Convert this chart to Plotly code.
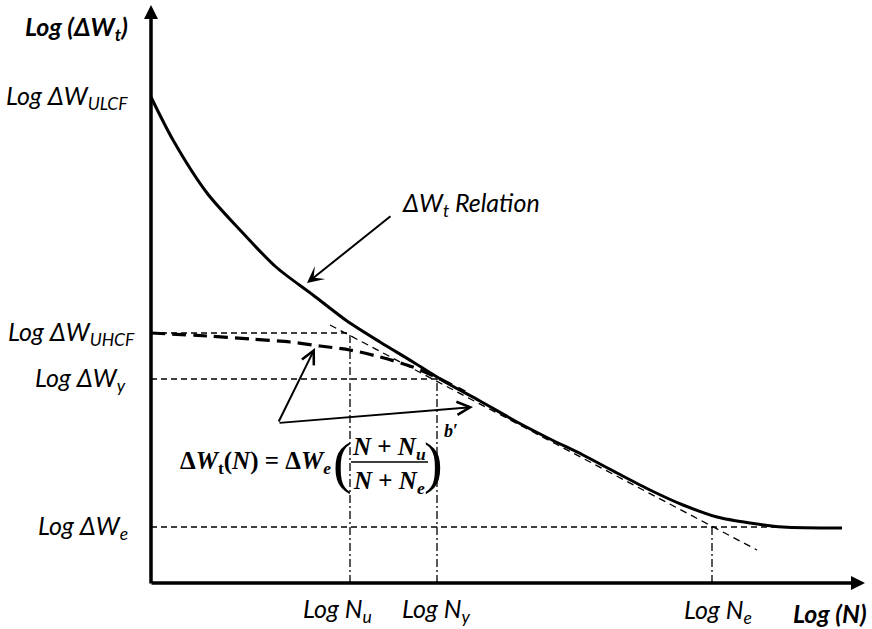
import plotly.graph_objects as go

# ---- data (schematic units: Log N horizontally, Log ΔW vertically) ----
log_N_curve = [0.00, 0.22, 0.56, 0.89, 1.25, 1.62, 1.96, 2.29, 2.62, 2.96, 3.29,
               3.66, 3.99, 4.32, 4.66, 4.99, 5.32, 5.66, 5.99, 6.32, 6.91]
log_dW_curve = [4.86, 4.43, 3.90, 3.53, 3.16, 2.88, 2.62, 2.41, 2.21, 2.00, 1.82,
                1.61, 1.44, 1.28, 1.10, 0.93, 0.78, 0.66, 0.60, 0.56, 0.55]

log_N_hcf = [0.00, 0.56, 0.99, 1.39, 1.69, 1.99, 2.29, 2.62, 2.89, 3.14]
log_dW_hcf = [2.50, 2.47, 2.44, 2.41, 2.37, 2.33, 2.26, 2.16, 2.04, 1.91]

log_N_tangent = [1.79, 6.06]
log_dW_tangent = [2.58, 0.33]

dW_ULCF = 4.86
dW_UHCF = 2.50
dW_y = 2.04
dW_e = 0.56
N_u = 1.99
N_y = 2.86
N_e = 5.61
x_max = 7.14
y_max = 5.78

fig = go.Figure()

fig.add_trace(go.Scatter(x=log_N_curve, y=log_dW_curve, mode="lines",
                         line=dict(color="black", width=3, shape="spline", smoothing=0.8),
                         hoverinfo="skip"))
fig.add_trace(go.Scatter(x=log_N_hcf, y=log_dW_hcf, mode="lines",
                         line=dict(color="black", width=3.2, dash="14px,7px",
                                   shape="spline", smoothing=0.8),
                         hoverinfo="skip"))
fig.add_trace(go.Scatter(x=log_N_tangent, y=log_dW_tangent, mode="lines",
                         line=dict(color="black", width=1.3, dash="7px,5px"),
                         hoverinfo="skip"))

thin_dash = dict(color="black", width=1.3, dash="6px,4px")
dashdot = dict(color="black", width=1.3, dash="8px,3px,2px,3px")

for lvl, xend in [(dW_UHCF, N_u), (dW_y, N_y), (dW_e, 6.40)]:
    fig.add_trace(go.Scatter(x=[0, xend], y=[lvl, lvl], mode="lines",
                             line=thin_dash, hoverinfo="skip"))
for nx, lvl in [(N_u, dW_UHCF), (N_y, dW_y), (N_e, dW_e)]:
    fig.add_trace(go.Scatter(x=[nx, nx], y=[0, lvl], mode="lines",
                             line=dashdot, hoverinfo="skip"))

ann = []
ann.append(dict(x=0, y=y_max, ax=0, ay=-0.02, xref="x", yref="y", axref="x", ayref="y",
                showarrow=True, arrowhead=2, arrowsize=0.8, arrowwidth=3.5,
                arrowcolor="black", text="", standoff=0))
ann.append(dict(x=x_max, y=0, ax=-0.01, ay=0, xref="x", yref="y", axref="x", ayref="y",
                showarrow=True, arrowhead=2, arrowsize=0.8, arrowwidth=3.5,
                arrowcolor="black", text="", standoff=0))

ann.append(dict(x=1.56, y=3.00, ax=2.41, ay=3.68, xref="x", yref="y", axref="x", ayref="y",
                showarrow=True, arrowhead=3, arrowsize=1.4, arrowwidth=2,
                arrowcolor="black", text="", standoff=0))
for tx, ty in [(1.64, 2.35), (3.22, 1.76)]:
    ann.append(dict(x=tx, y=ty, ax=1.27, ay=1.60, xref="x", yref="y", axref="x", ayref="y",
                    showarrow=True, arrowhead=5, arrowsize=1.3, arrowwidth=2,
                    arrowcolor="black", text="", standoff=0))


def label(text, x, y, xanchor="center", size=25):
    ann.append(dict(x=x, y=y, xref="x", yref="y", text=text, showarrow=False,
                    xanchor=xanchor, yanchor="middle",
                    font=dict(family="Lato", size=size, color="black")))


label("<b><i>Log (ΔW<sub>t</sub>)</i></b>", -0.21, 5.55, "right")
label("<i>Log ΔW<sub>ULCF</sub></i>", -0.21, dW_ULCF, "right")
label("<i>Log ΔW<sub>UHCF</sub></i>", -0.14, dW_UHCF, "right")
label("<i>Log ΔW<sub>y</sub></i>", -0.23, dW_y, "right")
label("<i>Log ΔW<sub>e</sub></i>", -0.21, dW_e, "right")
label("<i>Log N<sub>u</sub></i>", 1.86, -0.27)
label("<i>Log N<sub>y</sub></i>", 2.85, -0.27)
label("<i>Log N<sub>e</sub></i>", 5.67, -0.28)
label("<b><i>Log (N)</i></b>", 6.79, -0.30)
label("<i>ΔW<sub>t</sub> Relation</i>", 3.20, 3.79)

ffont = dict(family="Liberation Serif", size=25, color="black")
ann.append(dict(x=1.82, y=1.21, xref="x", yref="y", showarrow=False, xanchor="right",
                yanchor="middle", font=ffont,
                text="<b>Δ<i>W</i><sub>t</sub>(<i>N</i>) = Δ<i>W<sub>e</sub></i></b>"))
ann.append(dict(x=1.91, y=1.20, xref="x", yref="y", showarrow=False, xanchor="center",
                yanchor="middle", font=dict(family="Liberation Serif", size=56, color="black"),
                text="("))
ann.append(dict(x=2.82, y=1.20, xref="x", yref="y", showarrow=False, xanchor="center",
                yanchor="middle", font=dict(family="Liberation Serif", size=56, color="black"),
                text=")"))
ann.append(dict(x=2.38, y=1.35, xref="x", yref="y", showarrow=False, xanchor="center",
                yanchor="middle", font=ffont,
                text="<b><i>N</i> + <i>N<sub>u</sub></i></b>"))
ann.append(dict(x=2.38, y=1.01, xref="x", yref="y", showarrow=False, xanchor="center",
                yanchor="middle", font=ffont,
                text="<b><i>N</i> + <i>N<sub>e</sub></i></b>"))
ann.append(dict(x=3.00, y=1.52, xref="x", yref="y", showarrow=False, xanchor="center",
                yanchor="middle", font=dict(family="Liberation Serif", size=18, color="black"),
                text="<b><i>b</i>′</b>"))

# axes span the whole page so that the labels around the plot stay visible
fig.update_layout(
    width=872, height=629,
    margin=dict(l=0, r=0, t=0, b=0),
    paper_bgcolor="white", plot_bgcolor="white",
    showlegend=False,
    xaxis=dict(range=[-1.51, 7.21], visible=False, fixedrange=True),
    yaxis=dict(range=[-0.46, 5.83], visible=False, fixedrange=True),
    annotations=ann,
    shapes=[dict(type="line", xref="x", yref="y", x0=2.00, x1=2.77, y0=1.21, y1=1.21,
                 line=dict(color="black", width=1.5))],
)

fig.write_html("out.html")
